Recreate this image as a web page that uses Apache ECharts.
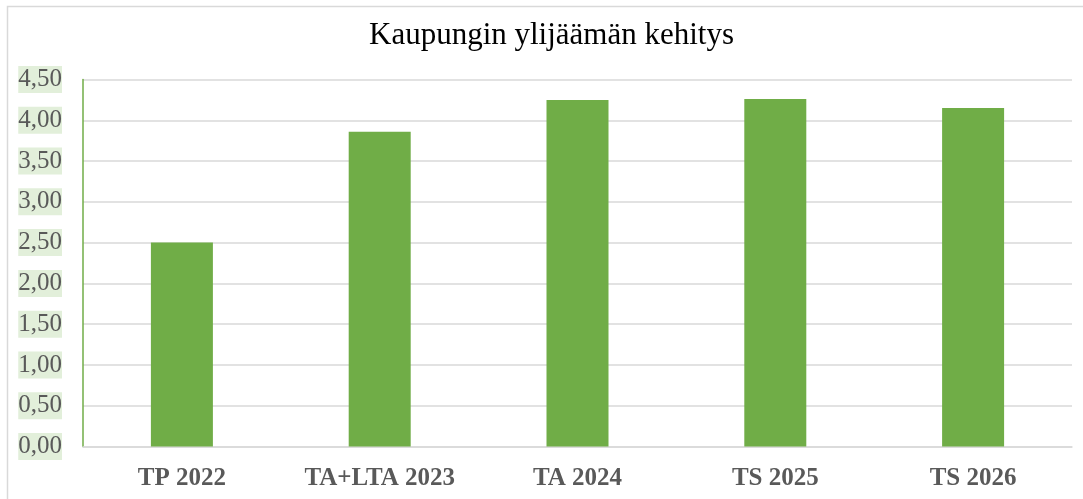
<!DOCTYPE html>
<html>
<head>
<meta charset="utf-8">
<style>
  html, body { margin: 0; padding: 0; background: #fff; }
  #chart { width: 1083px; height: 499px; }
</style>
<script src="https://cdn.jsdelivr.net/npm/echarts@6/dist/echarts.min.js"></script>
</head>
<body>
<div id="chart"></div>
<script>
const categories = ['TP 2022', 'TA+LTA 2023', 'TA 2024', 'TS 2025', 'TS 2026'];
const surplus = [2.50, 3.86, 4.25, 4.26, 4.15];

const serif = '"Liberation Serif", "Times New Roman", serif';

const myChart = echarts.init(document.getElementById('chart'));
myChart.setOption({
  animation: false,
  title: {
    text: 'Kaupungin ylijäämän kehitys',
    left: 364,
    top: 15,
    textStyle: { fontFamily: serif, fontSize: 31, fontWeight: 'normal', color: '#000' }
  },
  graphic: [{
    type: 'rect',
    shape: { x: 7.5, y: 6.5, width: 1200, height: 600 },
    style: { fill: 'none', stroke: '#D9D9D9', lineWidth: 1.5 },
    silent: true
  }],
  grid: { left: 83, right: 11, top: 79.5, bottom: 52.5 },
  xAxis: {
    type: 'category',
    data: categories,
    axisTick: { show: false },
    axisLine: { lineStyle: { color: '#D9D9D9', width: 1.5 } },
    axisLabel: {
      fontFamily: serif, fontSize: 25, fontWeight: 'bold', color: '#595959', margin: 20
    }
  },
  yAxis: {
    type: 'value',
    min: 0,
    max: 4.5,
    interval: 0.5,
    axisLine: { show: true, lineStyle: { color: '#70AD47', width: 1.5 } },
    splitLine: { lineStyle: { color: '#D9D9D9', width: 1.5 } },
    axisLabel: {
      fontFamily: serif, fontSize: 25, color: '#595959', margin: 21,
      backgroundColor: '#E2EFDA', padding: [1, 0, 1, 0],
      formatter: v => v.toFixed(2).replace('.', ',')
    }
  },
  series: [{
    type: 'bar',
    data: surplus,
    barWidth: 62,
    itemStyle: { color: '#70AD47' }
  }]
});
</script>
</body>
</html>
